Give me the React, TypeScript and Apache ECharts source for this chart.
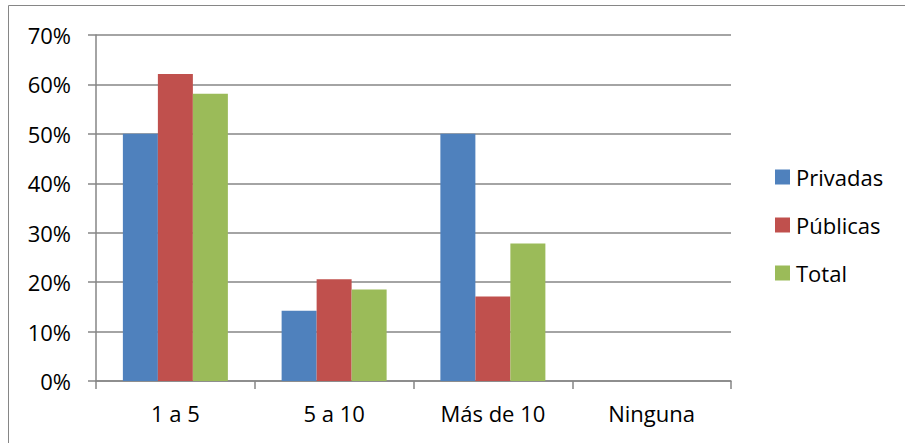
import React, { useEffect, useRef } from "react";
import * as echarts from "echarts";

const categories = ["1 a 5", "5 a 10", "Más de 10", "Ninguna"];
const privadas = [50, 14.2, 50, 0];
const publicas = [62.1, 20.6, 17.1, 0];
const total = [58.1, 18.5, 27.8, 0];
const yTicks = { min: 0, max: 70, interval: 10 };

const FONT = "Open Sans";
const GRAY = "#868686";

export default function App() {
  const ref = useRef<HTMLDivElement>(null);
  useEffect(() => {
    if (!ref.current) return;
    const chart = echarts.init(ref.current, null, { renderer: "svg" });
    const barStyle = (color: string) => ({
      type: "bar" as const,
      barWidth: 35,
      barGap: "0%",
      itemStyle: { color },
    });
    chart.setOption({
      animation: false,
      textStyle: { fontFamily: FONT },
      graphic: [
        {
          type: "rect",
          shape: { x: 8.5, y: 5.5, width: 1000, height: 1000 },
          style: { fill: "none", stroke: GRAY, lineWidth: 1 },
          silent: true,
        },
      ],
      grid: { left: 96, right: 174, top: 35, bottom: 62, containLabel: false },
      legend: {
        orient: "vertical",
        left: 770,
        top: 160,
        itemWidth: 15,
        itemHeight: 15,
        itemGap: 24,
        icon: "rect",
        textStyle: { fontFamily: FONT, fontSize: 22, color: "#000", lineHeight: 24, padding: [0, 0, 0, 1] },
        data: ["Privadas", "Públicas", "Total"],
      },
      xAxis: {
        type: "category",
        data: categories,
        axisLine: { show: true, lineStyle: { color: GRAY, width: 1.5 } },
        axisTick: { show: true, length: 8, alignWithLabel: false, lineStyle: { color: GRAY, width: 1.5 } },
        axisLabel: { fontFamily: FONT, fontSize: 22, color: "#000", margin: 21 },
      },
      yAxis: {
        type: "value",
        min: yTicks.min,
        max: yTicks.max,
        interval: yTicks.interval,
        axisLine: { show: true, lineStyle: { color: GRAY, width: 1.5 } },
        axisTick: { show: true, length: 8, lineStyle: { color: GRAY, width: 1.5 } },
        axisLabel: { fontFamily: FONT, fontSize: 22, color: "#000", margin: 25, formatter: "{value}%" },
        splitLine: { show: true, lineStyle: { color: GRAY, width: 1.5 } },
      },
      series: [
        { name: "Privadas", data: privadas, ...barStyle("#4F81BD") },
        { name: "Públicas", data: publicas, ...barStyle("#C0504D") },
        { name: "Total", data: total, ...barStyle("#9BBB59") },
      ],
    });
    return () => chart.dispose();
  }, []);
  return (
    <div
      ref={ref}
      style={{ position: "fixed", left: 0, top: 0, width: 905, height: 443, background: "#fff" }}
    />
  );
}
